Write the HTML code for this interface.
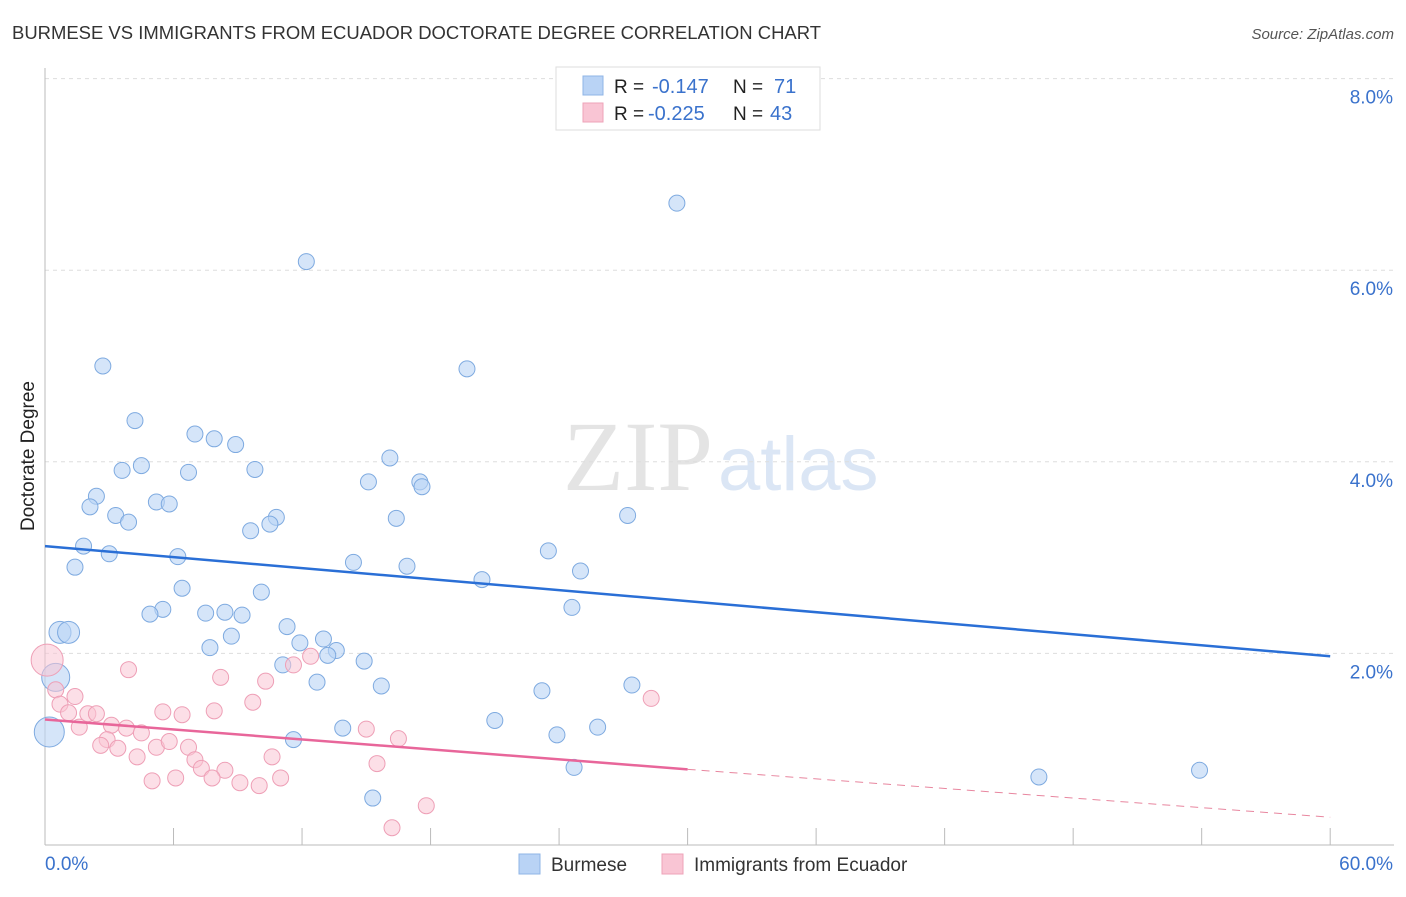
<!DOCTYPE html>
<html><head><meta charset="utf-8"><style>
body{margin:0;background:#fff;font-family:"Liberation Sans",sans-serif;}
svg text{font-family:"Liberation Sans",sans-serif;}
</style></head><body>
<svg id="c" width="1406" height="892">
<text x="12" y="39" font-size="18" fill="#333" textLength="809" lengthAdjust="spacingAndGlyphs">BURMESE VS IMMIGRANTS FROM ECUADOR DOCTORATE DEGREE CORRELATION CHART</text>
<text x="1394" y="39" font-size="15" fill="#555" font-style="italic" text-anchor="end">Source: ZipAtlas.com</text>
<text x="713" y="490" font-size="100" fill="#e4e4e4" text-anchor="end" style="font-family:'Liberation Serif',serif">ZIP</text>
<text x="718" y="490" font-size="76" fill="#dbe6f5">atlas</text>
<text x="34" y="456" font-size="19" fill="#222" text-anchor="middle" transform="rotate(-90 34 456)">Doctorate Degree</text>
<g id="grid"></g><g id="marks"></g>
<g>
<rect x="556" y="67" width="264" height="63" fill="#fff" stroke="#ddd"/>
<rect x="583" y="76" width="20" height="19" fill="#b9d3f5" stroke="#8fb4e6"/>
<rect x="583" y="103" width="20" height="19" fill="#f9c5d4" stroke="#eea3b8"/>
<text x="614" y="93" font-size="19" fill="#222">R = </text><text x="652" y="93" font-size="20" fill="#3a72cc">-0.147</text>
<text x="733" y="93" font-size="19" fill="#222">N = </text><text x="774" y="93" font-size="20" fill="#3a72cc">71</text>
<text x="614" y="120" font-size="19" fill="#222">R = </text><text x="648" y="120" font-size="20" fill="#3a72cc">-0.225</text>
<text x="733" y="120" font-size="19" fill="#222">N = </text><text x="770" y="120" font-size="20" fill="#3a72cc">43</text>
</g>
<g>
<rect x="519" y="854" width="21" height="20" fill="#b9d3f5" stroke="#8fb4e6"/>
<text x="551" y="871" font-size="19" fill="#333">Burmese</text>
<rect x="662" y="854" width="21" height="20" fill="#f9c5d4" stroke="#eea3b8"/>
<text x="694" y="871" font-size="19" fill="#333">Immigrants from Ecuador</text>
</g>
</svg>
<script>
const yTicks=[2,4,6,8];
const xTickLabels=["0.0%","60.0%"];
const blueX=[29.5,12.2,2.7,19.7,4.2,7.0,7.9,8.9,3.6,4.5,6.7,9.8,16.1,15.1,17.5,17.6,2.4,2.1,5.2,5.8,3.3,3.9,10.8,10.5,9.6,16.4,27.2,1.8,3.0,6.2,1.4,14.4,16.9,23.5,25.0,20.4,6.4,10.1,5.5,4.9,7.5,8.4,9.2,24.6,11.3,8.7,0.7,1.1,13.0,11.9,7.7,13.6,13.2,14.9,11.1,0.5,12.7,15.7,27.4,23.2,21.0,13.9,25.8,23.9,11.6,0.2,24.7,46.4,53.9,15.3];
const blueY=[6.70,6.09,5.00,4.97,4.43,4.29,4.24,4.18,3.91,3.96,3.89,3.92,4.04,3.79,3.79,3.74,3.64,3.53,3.58,3.56,3.44,3.37,3.42,3.35,3.28,3.41,3.44,3.12,3.04,3.01,2.90,2.95,2.91,3.07,2.86,2.77,2.68,2.64,2.46,2.41,2.42,2.43,2.40,2.48,2.28,2.18,2.22,2.22,2.15,2.11,2.06,2.03,1.98,1.92,1.88,1.75,1.70,1.66,1.67,1.61,1.30,1.22,1.23,1.15,1.10,1.18,0.81,0.71,0.78,0.49];
const blueR=[8,8,8,8,8,8,8,8,8,8,8,8,8,8,8,8,8,8,8,8,8,8,8,8,8,8,8,8,8,8,8,8,8,8,8,8,8,8,8,8,8,8,8,8,8,8,11,11,8,8,8,8,8,8,8,14,8,8,8,8,8,8,8,8,8,15,8,8,8,8];
const pinkX=[0.1,0.5,1.4,3.9,8.2,10.3,11.6,12.4,0.7,1.1,2.0,2.4,1.6,3.1,3.8,5.5,6.4,7.9,9.7,28.3,4.5,2.9,2.6,3.4,5.2,5.8,6.7,4.3,7.0,7.3,8.4,10.6,15.0,16.5,15.5,5.0,6.1,7.8,9.1,10.0,11.0,17.8,16.2];
const pinkY=[1.93,1.62,1.55,1.83,1.75,1.71,1.88,1.97,1.47,1.38,1.37,1.37,1.23,1.25,1.22,1.39,1.36,1.40,1.49,1.53,1.17,1.10,1.04,1.01,1.02,1.08,1.02,0.92,0.89,0.80,0.78,0.92,1.21,1.11,0.85,0.67,0.70,0.70,0.65,0.62,0.70,0.41,0.18];
const pinkR=[16,8,8,8,8,8,8,8,8,8,8,8,8,8,8,8,8,8,8,8,8,8,8,8,8,8,8,8,8,8,8,8,8,8,8,8,8,8,8,8,8,8,8];
const blueTrend=[[0,3.12],[60,1.97]];
const pinkTrend=[[0,1.31],[30,0.79],[60,0.29]];
const X=v=>45+v*21.42, Y=v=>845-v*95.8;
const ns="http://www.w3.org/2000/svg";
function mk(t,a,p){const e=document.createElementNS(ns,t);for(const k in a)e.setAttribute(k,a[k]);p.appendChild(e);return e;}
const g=document.getElementById('grid'),m=document.getElementById('marks');
yTicks.forEach(t=>{const l=mk('line',{x1:45,x2:1394,y1:Y(t),y2:Y(t),stroke:'#ddd','stroke-dasharray':'4,4'},g);

const tx=mk('text',{x:1393,y:Y(t)+25,'font-size':19,fill:'#3a72cc','text-anchor':'end'},g);tx.textContent=t.toFixed(1)+'%';
});
const ax=mk('line',{x1:45,x2:45,y1:68,y2:845,stroke:'#bbb'},g);
const bx=mk('line',{x1:45,x2:1394,y1:845,y2:845,stroke:'#bbb'},g);
for(let i=0;i<=10;i++){const t=mk('line',{x1:X(i*6),x2:X(i*6),y1:828,y2:845,stroke:'#bbb'},g);}
[[0,'start',45],[60,'end',1393]].forEach((d,i)=>{const t=mk('text',{x:d[2],y:870,'font-size':19,fill:'#3a72cc','text-anchor':d[1]},g);t.textContent=xTickLabels[i];
});
blueX.forEach((v,i)=>{const c=mk('circle',{cx:X(v),cy:Y(blueY[i]),r:blueR[i],fill:'#b9d3f5','fill-opacity':0.6,stroke:'#7eaae0','stroke-width':1},m);
});
pinkX.forEach((v,i)=>{const c=mk('circle',{cx:X(v),cy:Y(pinkY[i]),r:pinkR[i],fill:'#f9c5d4','fill-opacity':0.55,stroke:'#ee9fb6','stroke-width':1},m);
});
const bl=mk('line',{x1:X(blueTrend[0][0]),y1:Y(blueTrend[0][1]),x2:X(blueTrend[1][0]),y2:Y(blueTrend[1][1]),stroke:'#2a6fd6','stroke-width':2.5},m);

const pl=mk('line',{x1:X(pinkTrend[0][0]),y1:Y(pinkTrend[0][1]),x2:X(pinkTrend[1][0]),y2:Y(pinkTrend[1][1]),stroke:'#e8669a','stroke-width':2.5},m);

const pd=mk('line',{x1:X(pinkTrend[1][0]),y1:Y(pinkTrend[1][1]),x2:X(pinkTrend[2][0]),y2:Y(pinkTrend[2][1]),stroke:'#e8869f','stroke-width':1,'stroke-dasharray':'8,6'},m);

</script>
</body></html>
